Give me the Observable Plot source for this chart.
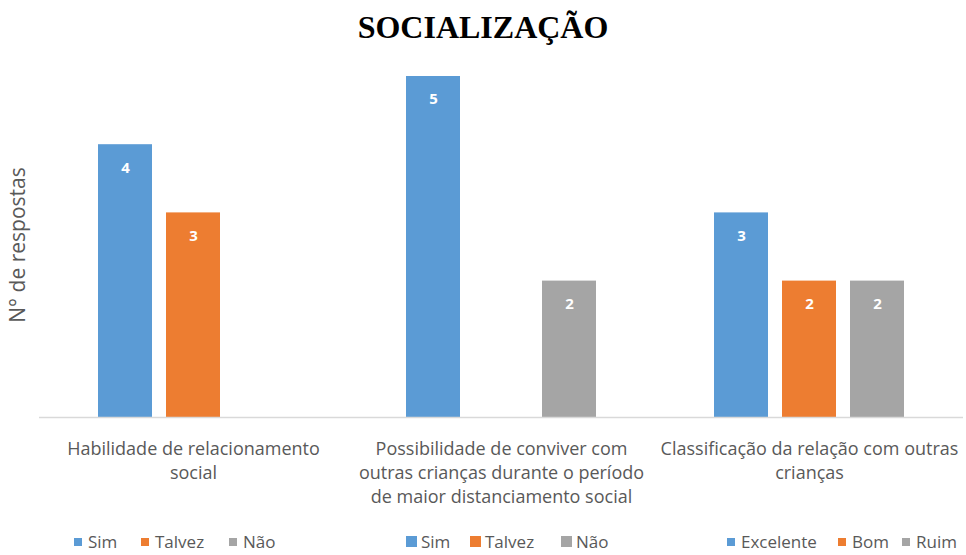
<!DOCTYPE html>
<html>
<head>
<meta charset="utf-8">
<script src="https://cdn.jsdelivr.net/npm/d3@7"></script>
<script src="https://cdn.jsdelivr.net/npm/@observablehq/plot@0.6"></script>
<style>
  body { margin: 0; background: #fff; width: 966px; height: 555px; overflow: hidden; position: relative; font-family: "Open Sans", sans-serif; }
  #title { height: 59px; padding-top: 11px; line-height: 32px; text-align: center; font-family: "Liberation Serif", "Times New Roman", serif; font-weight: bold; font-size: 32px; color: #000; }
  #chart svg { display: block; }
  .item { position: absolute; top: 530px; height: 23px; line-height: 23px; display: flex; align-items: center; font-size: 17px; color: #595959; white-space: nowrap; }
  .item .sw { display: inline-block; }
</style>
</head>
<body>
<div id="title">SOCIALIZAÇÃO</div>
<div id="chart"></div>
<div id="legends"></div>
<script>
const categories = [
  "Habilidade de relacionamento social",
  "Possibilidade de conviver com outras crianças durante o período de maior distanciamento social",
  "Classificação da relação com outras crianças"
];
const categoryTickLabels = [
  "Habilidade de relacionamento\nsocial",
  "Possibilidade de conviver com\noutras crianças durante o período\nde maior distanciamento social",
  "Classificação da relação com outras\ncrianças"
];
const seriesLabels = [
  ["Sim", "Talvez", "Não"],
  ["Sim", "Talvez", "Não"],
  ["Excelente", "Bom", "Ruim"]
];
const values = [
  [4, 3, null],
  [5, null, 2],
  [3, 2, 2]
];
const slotColors = ["#5B9BD5", "#ED7D31", "#A5A5A5"];
const yLabel = "N° de respostas";

// legend layout (pixels): left of each swatch, swatch size, gap to text
const legendLayout = [
  {lefts: [74, 141, 229], size: 8, gap: 6},
  {lefts: [406, 470, 561], size: 11, gap: 4},
  {lefts: [727, 838, 902], size: 8, gap: 6}
];

const rows = [];
categories.forEach((c, i) => {
  values[i].forEach((v, j) => {
    if (v != null) rows.push({category: c, slot: j, series: seriesLabels[i][j], value: v});
  });
});

const font = "Open Sans, sans-serif";

const plot = Plot.plot({
  width: 966,
  height: 455,
  marginLeft: 38,
  marginRight: 2,
  marginTop: 6,
  marginBottom: 108,
  fx: {domain: categories, padding: 0, label: null},
  x: {domain: [0, 1, 2], paddingInner: 0.2, paddingOuter: 0.853, axis: null},
  y: {domain: [0, 5], axis: null},
  color: {domain: [0, 1, 2], range: slotColors},
  style: {fontFamily: font, background: "#fff"},
  marks: [
    Plot.barY(rows, {fx: "category", x: "slot", y: "value", fill: d => d.slot}),
    Plot.ruleY([0], {stroke: "#D9D9D9", strokeWidth: 1.5}),
    Plot.text(rows, {fx: "category", x: "slot", y: "value", text: d => String(d.value), dy: 23, fill: "white", fontWeight: "bold", fontSize: 15}),
    Plot.axisFx({anchor: "bottom", tickSize: 0, tickPadding: 20, tickFormat: d => categoryTickLabels[categories.indexOf(d)], fontSize: 18, lineHeight: 1.35, fill: "#595959", label: null, textAnchor: "middle"}),
    Plot.text([categories[0]], {fx: d => d, frameAnchor: "left", textAnchor: "middle", rotate: -90, dx: -21, dy: -2, text: () => yLabel, fontSize: 21, fill: "#595959"})
  ]
});
document.getElementById("chart").appendChild(plot);

const lg = document.getElementById("legends");
seriesLabels.forEach((labels, i) => {
  const L = legendLayout[i];
  labels.forEach((l, j) => {
    const it = document.createElement("div");
    it.className = "item";
    it.style.left = L.lefts[j] + "px";
    const sw = document.createElement("span");
    sw.className = "sw";
    sw.style.width = L.size + "px";
    sw.style.height = L.size + "px";
    sw.style.marginRight = L.gap + "px";
    sw.style.background = slotColors[j];
    it.appendChild(sw);
    it.appendChild(document.createTextNode(l));
    lg.appendChild(it);
  });
});
</script>
</body>
</html>
